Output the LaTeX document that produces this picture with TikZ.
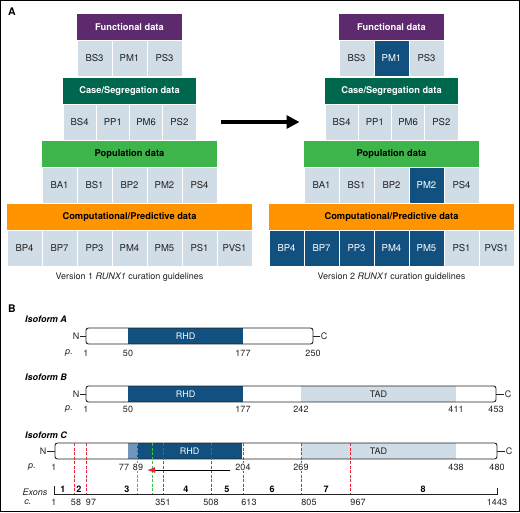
\documentclass[tikz,border=0pt]{standalone}
\usepackage{fontspec}
\setmainfont{TeX Gyre Heros}
\usetikzlibrary{positioning,arrows.meta}
\definecolor{runxMorado}{HTML}{5E2A6E}
\definecolor{runxVerdeOsc}{HTML}{00674F}
\definecolor{runxVerde}{HTML}{3DB54B}
\definecolor{runxNaranja}{HTML}{FF9300}
\definecolor{runxCeleste}{HTML}{D0DCE6}
\definecolor{runxAzul}{HTML}{11507F}
\definecolor{runxAzulMed}{HTML}{7097BB}
\definecolor{runxRojo}{HTML}{EE2233}
\definecolor{runxVerdeLinea}{HTML}{3CC04A}
\definecolor{runxTexto}{HTML}{222222}
\tikzset{
  cabecera/.style={rectangle, minimum height=26pt, inner sep=0pt,
    font=\fontsize{9.3}{11}\selectfont\bfseries},
  celda/.style={rectangle, draw=white, line width=1pt, fill=runxCeleste,
    minimum height=36pt, inner sep=0pt, text=runxTexto,
    font=\fontsize{9.5}{11}\selectfont},
  celdaNueva/.style={celda, fill=runxAzul, text=white},
  leyenda/.style={font=\fontsize{9}{11}\selectfont, text=runxTexto},
  panel/.style={font=\fontsize{10.5}{12}\selectfont\bfseries},
  isoTitulo/.style={anchor=west, inner sep=0pt,
    font=\fontsize{9}{11}\selectfont\bfseries\itshape},
  barra/.style={rectangle, rounded corners=2.5pt, draw=runxTexto,
    line width=0.9pt, minimum height=16pt, inner sep=0pt, outer sep=0pt},
  dominio/.style={rectangle, inner sep=0pt, minimum height=16pt,
    font=\fontsize{9}{11}\selectfont},
  etiq/.style={font=\fontsize{9}{11}\selectfont, text=runxTexto,
    inner sep=1pt},
  exon/.style={font=\fontsize{9}{11}\selectfont\bfseries, inner sep=1pt},
  guion/.style={runxTexto, line width=0.8pt},
  corte/.style={line width=1pt, dash pattern=on 3pt off 1.5pt},
  flechaGrande/.style={-{Triangle[length=13pt,width=13pt]}, line width=3.5pt},
}

\begin{document}
\begin{tikzpicture}[x=1pt, y=-1pt]
  \useasboundingbox (0,0) rectangle (520,512);
  \draw[line width=1pt] (0.5,0.5) rectangle (519.5,511.5);

  % panel A, version 1
  \node[panel] (panelA) at (12,12) {A};
  \node[cabecera, fill=runxMorado, text=white, minimum width=105pt] (funcI) at (129.5,27) {Functional data};
  \foreach \txt/\est [count=\i] in {BS3/celda,PM1/celda,PS3/celda}
    \node[\est, minimum width=35pt] (funcI-\i) at ({77+35*\i-17.5},58) {\txt};
  \node[cabecera, fill=runxVerdeOsc, text=white, minimum width=133pt] (caseI) at (129.5,91) {Case/Segregation data};
  \foreach \txt/\est [count=\i] in {BS4/celda,PP1/celda,PM6/celda,PS2/celda}
    \node[\est, minimum width=33.25pt] (caseI-\i) at ({63+33.25*\i-16.625},122) {\txt};
  \node[cabecera, fill=runxVerde, minimum width=175pt] (popI) at (129.5,154) {Population data};
  \foreach \txt/\est [count=\i] in {BA1/celda,BS1/celda,BP2/celda,PM2/celda,PS4/celda}
    \node[\est, minimum width=35pt] (popI-\i) at ({42+35*\i-17.5},185) {\txt};
  \node[cabecera, fill=runxNaranja, minimum width=245pt] (compI) at (129.5,217) {Computational/Predictive data};
  \foreach \txt/\est [count=\i] in {BP4/celda,BP7/celda,PP3/celda,PM4/celda,PM5/celda,PS1/celda,PVS1/celda}
    \node[\est, minimum width=35pt] (compI-\i) at ({7+35*\i-17.5},248) {\txt};
  \node[leyenda] (versionI) at (129.5,277) {Version 1 \textit{RUNX1} curation guidelines};

  % panel A, version 2
  \node[cabecera, fill=runxMorado, text=white, minimum width=105pt] (funcII) at (391.5,27) {Functional data};
  \foreach \txt/\est [count=\i] in {BS3/celda,PM1/celdaNueva,PS3/celda}
    \node[\est, minimum width=35pt] (funcII-\i) at ({339+35*\i-17.5},58) {\txt};
  \node[cabecera, fill=runxVerdeOsc, text=white, minimum width=133pt] (caseII) at (391.5,91) {Case/Segregation data};
  \foreach \txt/\est [count=\i] in {BS4/celda,PP1/celda,PM6/celda,PS2/celda}
    \node[\est, minimum width=33.25pt] (caseII-\i) at ({325+33.25*\i-16.625},122) {\txt};
  \node[cabecera, fill=runxVerde, minimum width=175pt] (popII) at (391.5,154) {Population data};
  \foreach \txt/\est [count=\i] in {BA1/celda,BS1/celda,BP2/celda,PM2/celdaNueva,PS4/celda}
    \node[\est, minimum width=35pt] (popII-\i) at ({304+35*\i-17.5},185) {\txt};
  \node[cabecera, fill=runxNaranja, minimum width=245pt] (compII) at (391.5,217) {Computational/Predictive data};
  \foreach \txt/\est [count=\i] in {BP4/celdaNueva,BP7/celdaNueva,PP3/celdaNueva,PM4/celdaNueva,PM5/celdaNueva,PS1/celda,PVS1/celda}
    \node[\est, minimum width=35pt] (compII-\i) at ({269+35*\i-17.5},248) {\txt};
  \node[leyenda] (versionII) at (391.5,277) {Version 2 \textit{RUNX1} curation guidelines};

  \draw[flechaGrande, shorten <=24pt, shorten >=25pt] (caseI-4) -- (caseII-1);

  % panel B
  \node[panel] (panelB) at (12,309) {B};

  % isoform A
  \node[isoTitulo] (tituloA) at (25,319) {Isoform A};
  \node[dominio, fill=runxAzul, text=white, minimum width=115pt] (rhdA) at (185.5,336) {RHD};
  \node[barra, minimum width=227pt] (isoA) at (199.5,336) {};
  \node[etiq] (nA) at (76,336) {N};
  \node[etiq] (cA) at (324,336) {C};
  \draw[guion] (nA) -- (isoA);
  \draw[guion] (isoA) -- (cA);
  \node[etiq] (pA) at (69,353) {\textit{p.}};
  \node[etiq] (pA1) at (86,353) {1};
  \node[etiq] (pA50) at (128,353) {50};
  \node[etiq] (pA177) at (243,353) {177};
  \node[etiq] (pA250) at (313,353) {250};

  % isoform B
  \node[isoTitulo] (tituloB) at (25,377) {Isoform B};
  \node[dominio, fill=runxAzul, text=white, minimum width=115pt] (rhdB) at (185.5,394) {RHD};
  \node[dominio, fill=runxCeleste, text=runxTexto, minimum width=155pt] (tadB) at (378.5,394) {TAD};
  \node[barra, minimum width=410pt] (isoB) at (291,394) {};
  \node[etiq] (nB) at (76,394) {N};
  \node[etiq] (cB) at (508,394) {C};
  \draw[guion] (nB) -- (isoB);
  \draw[guion] (isoB) -- (cB);
  \node[etiq] (pB) at (69,409) {\textit{p.}};
  \node[etiq] (pB1) at (86,409) {1};
  \node[etiq] (pB50) at (128,409) {50};
  \node[etiq] (pB177) at (243,409) {177};
  \node[etiq] (pB242) at (301,409) {242};
  \node[etiq] (pB411) at (456,409) {411};
  \node[etiq] (pB453) at (496,409) {453};

  % isoform C
  \node[isoTitulo] (tituloC) at (25,435) {Isoform C};
  \node[dominio, fill=runxAzulMed, minimum width=9pt] (extC) at (132.5,451) {};
  \node[dominio, fill=runxAzul, text=white, minimum width=105pt] (rhdC) at (189.5,451) {RHD};
  \node[dominio, fill=runxCeleste, text=runxTexto, minimum width=155pt] (tadC) at (378.5,451) {TAD};
  \node[barra, minimum width=442pt] (isoC) at (276,451) {};
  \node[etiq] (nC) at (43,451) {N};
  \node[etiq] (cC) at (509,451) {C};
  \draw[guion] (nC) -- (isoC);
  \draw[guion] (isoC) -- (cC);
  \foreach \x in {74.5,86.5,163.5,211.5,243.5,301.5,350.5}
    \draw[corte, runxRojo] (\x,443) -- (\x,494);
  \foreach \x in {137.5,152.5}
    \draw[corte, runxVerdeLinea] (\x,443) -- (\x,494);
  \node[etiq] (pC) at (32,467) {\textit{p.}};
  \node[etiq, fill=white] (pC1) at (54,467) {1};
  \node[etiq, fill=white] (pC77) at (124,467) {77};
  \node[etiq, fill=white] (pC89) at (138,467) {89};
  \node[etiq, fill=white] (pC204) at (243,467) {204};
  \node[etiq, fill=white] (pC269) at (301,467) {269};
  \node[etiq, fill=white] (pC438) at (456,467) {438};
  \node[etiq, fill=white] (pC480) at (497,467) {480};
  \coordinate (flechaIni) at (230,470);
  \coordinate (flechaFin) at (147,470);
  \draw[-{Latex[length=8pt,width=6pt,color=runxRojo]}, line width=1pt] (flechaIni) -- (flechaFin);

  % exons
  \draw[guion] (54,486) -- (54,494) -- (497,494) -- (497,488);
  \node[etiq] (exones) at (35,492) {\textit{Exons}};
  \node[exon] (ex1) at (63,489) {1};
  \node[exon] (ex2) at (79,489) {2};
  \node[exon] (ex3) at (127,489) {3};
  \node[exon] (ex4) at (186,489) {4};
  \node[exon] (ex5) at (227,489) {5};
  \node[exon] (ex6) at (272,489) {6};
  \node[exon] (ex7) at (326,489) {7};
  \node[exon] (ex8) at (423,489) {8};
  \node[etiq] (cc) at (28,502) {\textit{c.}};
  \node[etiq] (c1) at (54,502) {1};
  \node[etiq] (c58) at (76,502) {58};
  \node[etiq] (c97) at (91,502) {97};
  \node[etiq] (c351) at (163,502) {351};
  \node[etiq] (c508) at (211,502) {508};
  \node[etiq] (c613) at (249,502) {613};
  \node[etiq] (c805) at (309,502) {805};
  \node[etiq] (c967) at (358,502) {967};
  \node[etiq] (c1443) at (497,502) {1443};
\end{tikzpicture}
\end{document}
